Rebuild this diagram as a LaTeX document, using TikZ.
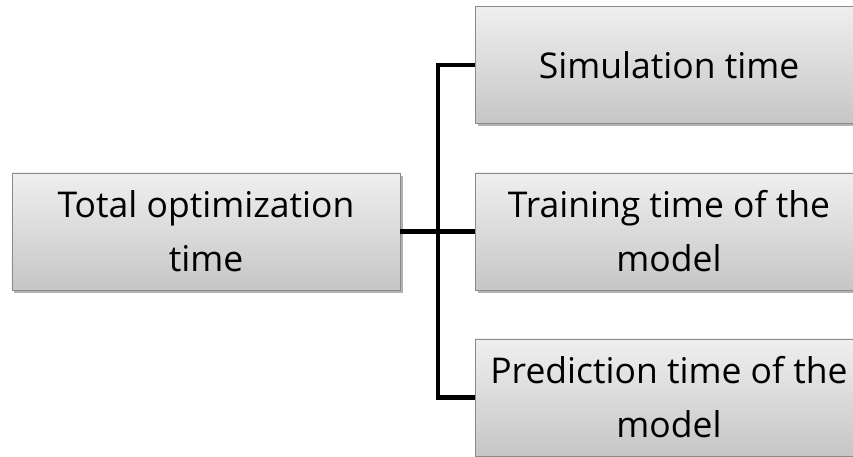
\documentclass[tikz,border=0pt]{standalone}
\usepackage{fontspec}
\setmainfont{Open Sans}
\usetikzlibrary{shadows}
\definecolor{boxtop}{HTML}{EFEFEF}
\definecolor{boxbot}{HTML}{C6C6C6}
\definecolor{boxline}{HTML}{8A8A8A}
\tikzset{
  box/.style={draw=boxline, line width=0.8bp, top color=boxtop, bottom color=boxbot,
    minimum width=388bp, minimum height=117bp, align=center, inner sep=0pt,
    font=\fontsize{35.5bp}{54bp}\selectfont,
    drop shadow={shadow xshift=2.5bp, shadow yshift=-3bp, opacity=0.5, fill=black!60}},
  conn/.style={line width=4.5bp, black}
}
\begin{document}
\begin{tikzpicture}[x=1bp,y=-1bp]
\useasboundingbox (0,0) rectangle (853,457);
\clip (0,0) rectangle (853,457);
\node[box] (L) at (206,231.5) {Total optimization\\time};
\node[box] (S) at (669,65) {Simulation time};
\node[box] (M) at (669,231.5) {Training time of the\\model};
\node[box] (P) at (669,397.5) {Prediction time of the\\model};
\coordinate (j) at (438,231.5);
\draw[conn] (L.east) -- (M.west);
\draw[conn] (S.west) -- (S.west -| j) -- (P.west -| j) -- (P.west);
\end{tikzpicture}
\end{document}
